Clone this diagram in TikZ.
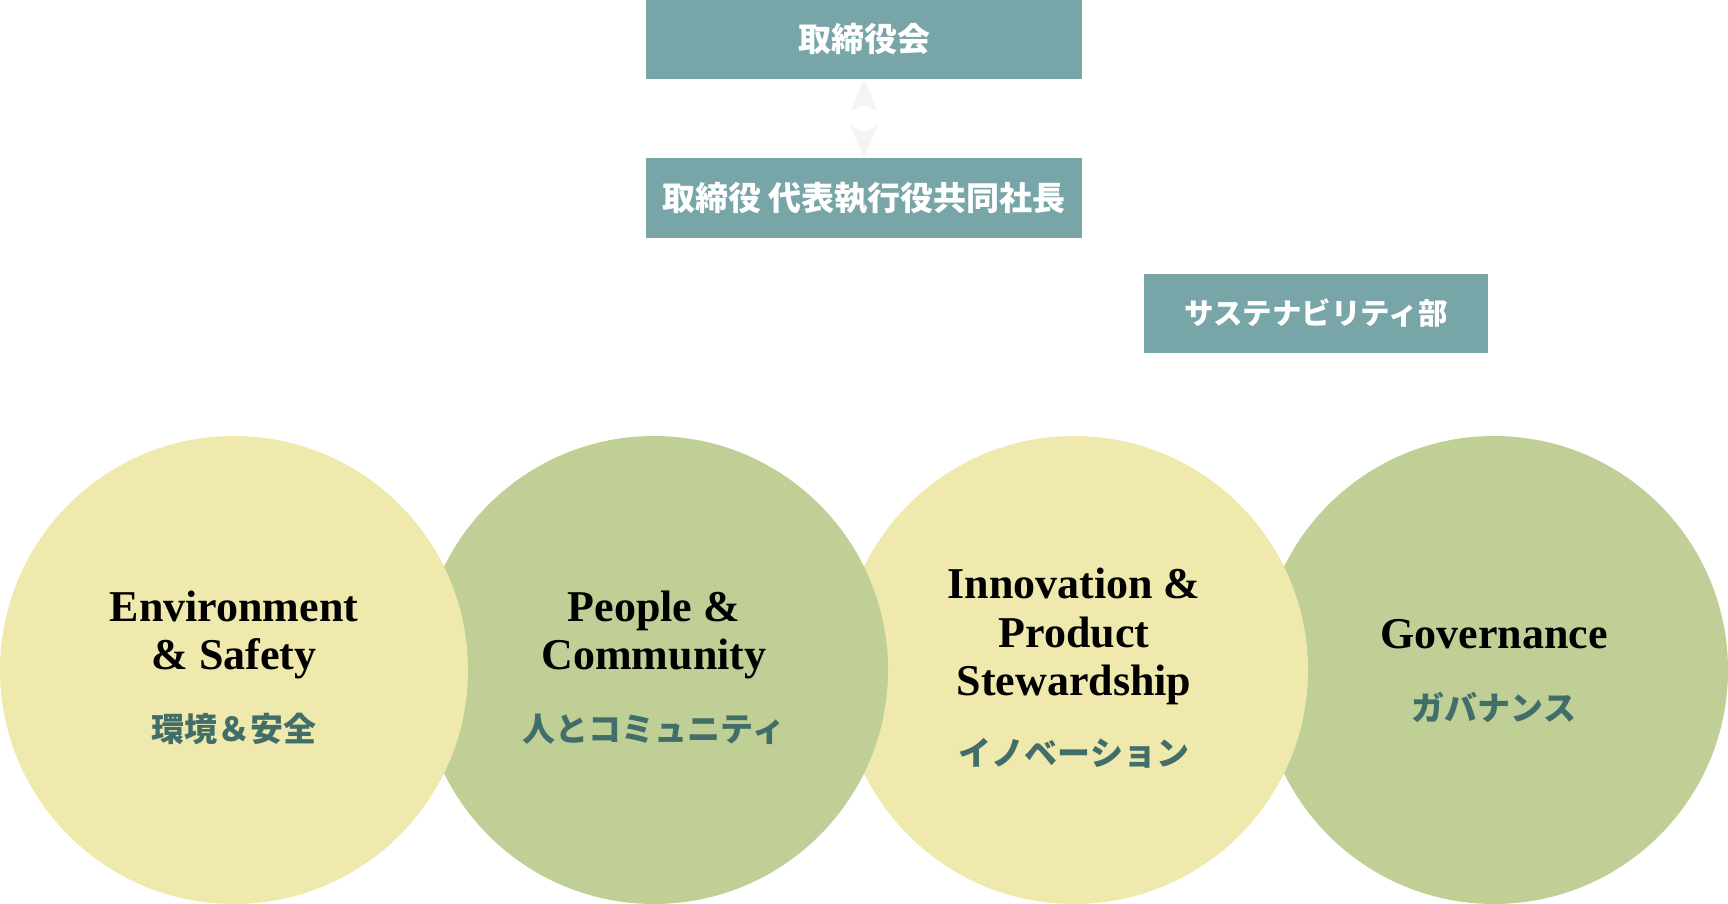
\documentclass[tikz,border=0pt]{standalone}
\usepackage{fontspec}
\setmainfont{Liberation Serif}
\newfontfamily\jp{Noto Sans CJK JP}
\usetikzlibrary{arrows.meta}
\definecolor{boxteal}{HTML}{78A5A7}
\definecolor{cyellow}{HTML}{F0E9AD}
\definecolor{cgreen}{HTML}{C0CF95}
\definecolor{jptext}{HTML}{426E6A}
\definecolor{arrowgray}{HTML}{F4F4F4}
\begin{document}
\begin{tikzpicture}[x=1pt,y=-1pt,
  orgbox/.style={fill=boxteal,draw=none,inner sep=0pt,text=white,
    font=\jp\bfseries\fontsize{33}{38}\selectfont},
  pillar/.style={circle,draw=none,inner sep=0pt,minimum size=468pt},
  entext/.style={anchor=base,inner sep=0pt,text=black,
    font=\bfseries\fontsize{44}{50}\selectfont},
  jplabel/.style={anchor=center,inner sep=0pt,text=jptext,
    font=\jp\bfseries\fontsize{33}{38}\selectfont}]
\useasboundingbox (0,0) rectangle (1728,904);
% boxes
\node[orgbox,minimum width=436pt,minimum height=79pt] (board) at (864,39.5) {取締役会};
\node[orgbox,minimum width=436pt,minimum height=80pt] (ceo) at (864,198) {取締役 代表執行役共同社長};
\node[orgbox,minimum width=344pt,minimum height=79pt,font=\jp\bfseries\fontsize{29.5}{34}\selectfont] (sust) at (1316,313.5) {サステナビリティ部};
\draw[arrowgray,line width=0.01pt,{Stealth[length=32pt,width=27pt,inset=6pt]}-{Stealth[length=32pt,width=27pt,inset=6pt]}] (board.south) -- (ceo.north);
% circles (drawn right to left so the left one lies on top)
\node[pillar,fill=cgreen] (gov) at (1494,670) {};
\node[pillar,fill=cyellow] (inn) at (1074,670) {};
\node[pillar,fill=cgreen] (ppl) at (654,670) {};
\node[pillar,fill=cyellow] (env) at (234,670) {};
% texts
\node[entext] (env1) at (234,621.5) {Environment};
\node[entext] (env2) at (234,669) {\& Safety};
\node[jplabel] (envj) at (234,729) {環境＆安全};
\node[entext] (ppl1) at (654,621.5) {People \&};
\node[entext] (ppl2) at (654,669) {Community};
\node[jplabel] (pplj) at (654,729) {人とコミュニティ};
\node[entext] (inn1) at (1074,598) {Innovation \&};
\node[entext] (inn2) at (1074,647) {Product};
\node[entext] (inn3) at (1074,695) {Stewardship};
\node[jplabel] (innj) at (1074,753) {イノベーション};
\node[entext] (gov1) at (1494,648) {Governance};
\node[jplabel] (govj) at (1494,707) {ガバナンス};
\end{tikzpicture}
\end{document}
